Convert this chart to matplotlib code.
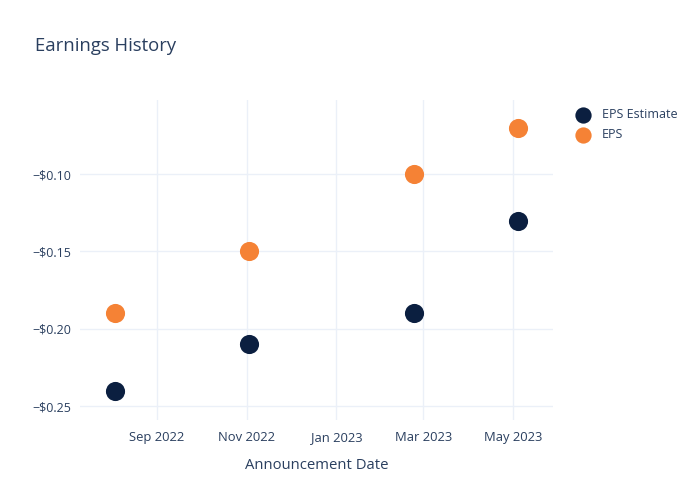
import matplotlib
matplotlib.use("Agg")
import matplotlib.pyplot as plt
import matplotlib.dates as mdates
import numpy as np
from datetime import datetime

dates = ["2022-08-04", "2022-11-03", "2023-02-23", "2023-05-04"]
eps_estimate = [-0.24, -0.21, -0.19, -0.13]
eps_actual = [-0.19, -0.15, -0.10, -0.07]
tick_dates = ["2022-09-01", "2022-11-01", "2023-01-01", "2023-03-01", "2023-05-01"]
tick_labels = ["Sep 2022", "Nov 2022", "Jan 2023", "Mar 2023", "May 2023"]
y_ticks = [-0.25, -0.20, -0.15, -0.10]

plt.rcParams['font.family'] = ['Open Sans', 'DejaVu Sans']
text_color = "#2a3f5f"
grid_color = "#ebf0f8"

x = [datetime.strptime(d, "%Y-%m-%d") for d in dates]
xt = [datetime.strptime(d, "%Y-%m-%d") for d in tick_dates]

fig = plt.figure(figsize=(7, 5), dpi=100)
ax = fig.add_axes([80/700, 80/500, (553-80)/700, 320/500])

ax.scatter(x, eps_estimate, s=190, color="#0b1f40", label="EPS Estimate", zorder=3, linewidths=0)
ax.scatter(x, eps_actual, s=190, color="#f58235", label="EPS", zorder=3, linewidths=0)

ax.set_xlim(datetime(2022, 7, 11), datetime(2023, 5, 28))
ax.set_ylim(-0.259, -0.052)
ax.set_xticks(xt)
ax.set_xticklabels(tick_labels)
ax.set_yticks(y_ticks)
ax.set_yticklabels([f"\u2212${abs(v):.2f}" for v in y_ticks])
ax.grid(True, color=grid_color, linewidth=1)
ax.set_axisbelow(True)
for s in ax.spines.values():
    s.set_visible(False)
ax.tick_params(axis='both', length=0, colors=text_color)
ax.tick_params(axis='x', pad=8, labelsize=9.4)
ax.tick_params(axis='y', pad=6, labelsize=9)
ax.set_xlabel("Announcement Date", color=text_color, fontsize=10.7, labelpad=10)

fig.text(35/700, 1 - 46/500, "Earnings History", color=text_color, fontsize=13.3, va='center', ha='left')

leg = ax.legend(loc='upper left', bbox_to_anchor=(565/700, 1 - 103/500), bbox_transform=fig.transFigure,
                frameon=False, fontsize=9, labelcolor=text_color, handletextpad=0.55,
                labelspacing=0.55, markerscale=0.85, borderaxespad=0)

fig.savefig("out.png", dpi=100)
